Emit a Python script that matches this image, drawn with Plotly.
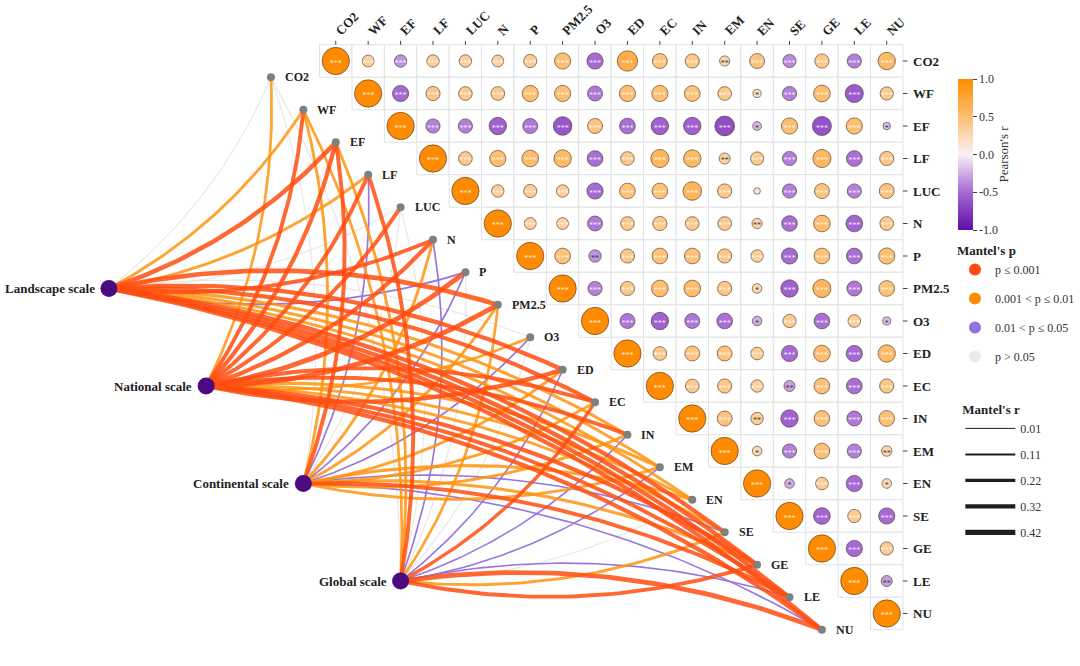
import numpy as np
import plotly.graph_objects as go

variables = ["CO2", "WF", "EF", "LF", "LUC", "N", "P", "PM2.5", "O3", "ED",
             "EC", "IN", "EM", "EN", "SE", "GE", "LE", "NU"]

# Pearson's r, upper triangle (values right of the diagonal, row by row)
r_rows = [
    [0.33, -0.35, 0.35, 0.35, 0.33, 0.38, 0.50, -0.50, 0.68, 0.45, 0.42, 0.27, 0.45, -0.38, 0.42, -0.42, 0.55],
    [-0.50, 0.42, 0.40, 0.40, 0.50, 0.50, -0.45, 0.50, 0.50, 0.48, 0.40, 0.20, -0.42, 0.52, -0.58, 0.38],
    [-0.42, -0.42, -0.55, -0.45, -0.60, 0.45, -0.48, -0.55, -0.55, -0.65, -0.22, 0.50, -0.62, 0.50, -0.18],
    [0.40, 0.50, 0.52, 0.55, -0.48, 0.40, 0.58, 0.55, 0.30, 0.38, -0.42, 0.58, -0.48, 0.42],
    [0.35, 0.38, 0.35, -0.50, 0.48, 0.48, 0.60, 0.42, 0.15, -0.42, 0.45, -0.42, 0.45],
    [0.33, 0.33, -0.45, 0.40, 0.42, 0.40, 0.40, 0.27, -0.48, 0.52, -0.52, 0.40],
    [0.48, -0.35, 0.42, 0.48, 0.48, 0.42, 0.35, -0.50, 0.48, -0.48, 0.50],
    [-0.42, 0.42, 0.52, 0.52, 0.42, 0.25, -0.55, 0.58, -0.45, 0.48],
    [-0.45, -0.55, -0.45, -0.48, -0.25, 0.38, -0.48, 0.36, -0.20],
    [0.40, 0.45, 0.45, 0.36, -0.50, 0.52, -0.50, 0.55],
    [0.40, 0.42, 0.35, -0.30, 0.48, -0.48, 0.42],
    [0.45, 0.35, -0.55, 0.48, -0.45, 0.48],
    [0.25, -0.42, 0.48, -0.42, 0.28],
    [-0.25, 0.36, -0.50, 0.25],
    [-0.52, 0.38, -0.50],
    [-0.50, 0.38],
    [-0.30],
]

# significance marks, same layout as r_rows
sig_rows = [
    ["***"] * 11 + ["**"] + ["***"] * 5,
    ["***"] * 11 + ["*"] + ["***"] * 4,
    ["***"] * 10 + ["*"] + ["***"] * 3 + ["*"],
    ["***"] * 8 + ["**"] + ["***"] * 5,
    ["***"] * 8 + [""] + ["***"] * 4,
    ["***"] * 7 + ["**"] + ["***"] * 4,
    ["***", "**"] + ["***"] * 9,
    ["***"] * 5 + ["*"] + ["***"] * 4,
    ["***"] * 4 + ["*"] + ["***"] * 3 + ["*"],
    ["***"] * 8,
    ["***"] * 3 + ["**"] + ["***"] * 3,
    ["***", "**"] + ["***"] * 4,
    ["*", "***", "***", "***", "**"],
    ["*", "***", "***", "*"],
    ["***"] * 3,
    ["***"] * 2,
    ["**"],
]

scales = ["Landscape scale", "National scale", "Continental scale", "Global scale"]

# Mantel's p class per scale (order = variables): a <=0.001, b <=0.01, c <=0.05, d >0.05
mantel_p_landscape = ["d", "b", "a", "b", "d", "a", "c", "a", "d", "a", "a", "b", "b", "b", "a", "a", "a", "a"]
mantel_p_national = ["b", "a", "a", "a", "a", "a", "a", "a", "b", "a", "a", "a", "b", "b", "b", "a", "a", "a"]
mantel_p_continental = ["d", "b", "a", "c", "d", "b", "c", "b", "c", "b", "b", "b", "b", "b", "c", "b", "a", "c"]
mantel_p_global = ["d", "b", "b", "a", "d", "c", "d", "b", "d", "c", "a", "c", "c", "d", "b", "a", "c", "a"]

# Mantel's r per scale
mantel_r_landscape = [0.02, 0.20, 0.36, 0.20, 0.03, 0.30, 0.10, 0.38, 0.03, 0.33, 0.33, 0.22, 0.20, 0.20, 0.33, 0.35, 0.33, 0.33]
mantel_r_national = [0.18, 0.30, 0.33, 0.30, 0.30, 0.33, 0.40, 0.40, 0.18, 0.35, 0.30, 0.30, 0.22, 0.20, 0.20, 0.33, 0.30, 0.33]
mantel_r_continental = [0.02, 0.20, 0.30, 0.08, 0.02, 0.20, 0.08, 0.20, 0.08, 0.20, 0.20, 0.20, 0.20, 0.22, 0.07, 0.22, 0.30, 0.07]
mantel_r_global = [0.03, 0.18, 0.20, 0.30, 0.02, 0.08, 0.03, 0.18, 0.03, 0.07, 0.25, 0.07, 0.07, 0.03, 0.20, 0.30, 0.07, 0.38]

p_labels = ["p \u2264 0.001", "0.001 < p \u2264 0.01", "0.01 < p \u2264 0.05", "p > 0.05"]
r_legend_values = [0.01, 0.11, 0.22, 0.32, 0.42]

# ---------------- styling ----------------
FONT = "Liberation Serif"
P_COLORS = {"a": "rgba(255,78,18,0.86)", "b": "rgba(255,146,12,0.84)",
            "c": "rgba(147,112,219,0.95)", "d": "rgba(225,225,225,0.8)"}
P_LEG_COLORS = {"a": "#FF4A10", "b": "#FF8C00", "c": "#9370DB", "d": "#EBEBEB"}
COLORSCALE = [[0.0, "#5E0DA6"], [0.25, "#A56AD4"], [0.5, "#F9F1F8"],
              [0.75, "#FDBF72"], [1.0, "#FF8C00"]]


def width_of(r):
    return 0.9 + 10.0 * r


n = len(variables)
fig = go.Figure()

# grid cells
for i in range(n):
    for j in range(i, n):
        fig.add_shape(type="rect", x0=j - 0.5, x1=j + 0.5, y0=i - 0.5, y1=i + 0.5,
                      line=dict(color="#E2E2E2", width=1), fillcolor="white", layer="below")

# ticks
for k in range(n):
    fig.add_shape(type="line", x0=17.5, x1=17.5 + 0.14, y0=k, y1=k,
                  line=dict(color="#444", width=1))
    fig.add_shape(type="line", x0=k, x1=k, y0=-0.5, y1=-0.62,
                  line=dict(color="#444", width=1))

# ---------------- Mantel links ----------------
scale_pos = [(-7.0, 7.0), (-4.0, 10.0), (-1.0, 13.0), (2.0, 16.0)]
var_pos = [(i - 2.0, i + 0.5) for i in range(n)]
p_all = [mantel_p_landscape, mantel_p_national, mantel_p_continental, mantel_p_global]
r_all = [mantel_r_landscape, mantel_r_national, mantel_r_continental, mantel_r_global]


def curve(p0, p2, k=0.13, m=50):
    dx, dy = p2[0] - p0[0], p2[1] - p0[1]
    if dy < 0:
        px, py = -dy, dx
    else:
        px, py = dy, -dx
    cxp = (p0[0] + p2[0]) / 2 + k * px
    cyp = (p0[1] + p2[1]) / 2 + k * py
    t = np.linspace(0, 1, m)
    x = (1 - t) ** 2 * p0[0] + 2 * (1 - t) * t * cxp + t ** 2 * p2[0]
    y = (1 - t) ** 2 * p0[1] + 2 * (1 - t) * t * cyp + t ** 2 * p2[1]
    return x, y


links = []
for s in range(4):
    for v in range(n):
        links.append((s, v, p_all[s][v], r_all[s][v]))
order = {"d": 0, "c": 1, "b": 2, "a": 3}
links.sort(key=lambda l: order[l[2]])
for s, v, pc, rv in links:
    x, y = curve(scale_pos[s], var_pos[v])
    fig.add_trace(go.Scatter(x=x, y=y, mode="lines",
                             line=dict(color=P_COLORS[pc], width=width_of(rv)),
                             hoverinfo="skip", showlegend=False))

# var nodes
fig.add_trace(go.Scatter(x=[p[0] for p in var_pos], y=[p[1] for p in var_pos], mode="markers",
                         marker=dict(size=8, color="#808080"), showlegend=False, hoverinfo="skip"))
# scale nodes
fig.add_trace(go.Scatter(x=[p[0] for p in scale_pos], y=[p[1] for p in scale_pos], mode="markers",
                         marker=dict(size=17, color="#4A0A80"), showlegend=False, hoverinfo="skip"))

# ---------------- correlation circles ----------------
cx, cy, cr, cs = [], [], [], []
for i in range(n):
    cx.append(i); cy.append(i); cr.append(1.0); cs.append("***")
    if i < n - 1:
        for k, val in enumerate(r_rows[i]):
            cx.append(i + 1 + k); cy.append(i); cr.append(val); cs.append(sig_rows[i][k])
sizes = [27.3 * abs(v) ** 0.75 for v in cr]

fig.add_trace(go.Scatter(
    x=cx, y=cy, mode="markers", showlegend=False, hoverinfo="skip",
    marker=dict(size=sizes, color=cr, cmin=-1, cmax=1, colorscale=COLORSCALE,
                line=dict(color="rgba(80,55,40,0.9)", width=0.7), opacity=1,
                showscale=True,
                colorbar=dict(x=961 / 1080, xanchor="left", y=1 - 79 / 666, yanchor="top",
                              len=151, lenmode="pixels", thickness=15, thicknessmode="pixels",
                              outlinewidth=0, ypad=0, xpad=0,
                              tickvals=[-1, -0.5, 0, 0.5, 1],
                              ticktext=["-1.0", "-0.5", "0.0", "0.5", "1.0"],
                              ticks="outside", ticklen=4, tickcolor="#444",
                              tickfont=dict(family=FONT, size=12, color="#333"),
                              title=dict(text="Pearson's r", side="right",
                                         font=dict(family=FONT, size=13, color="#333"))))))

star_colors = ["rgba(255,255,255,0.85)" if s == "***" else "#3A3A3A" for s in cs]
fig.add_trace(go.Scatter(x=cx, y=[v + 0.08 for v in cy], mode="text", text=cs,
                         textposition="middle center",
                         textfont=dict(family=FONT, size=8, color=star_colors),
                         showlegend=False, hoverinfo="skip"))

# ---------------- legends ----------------
for key, lab in zip(["a", "b", "c", "d"], p_labels):
    fig.add_trace(go.Scatter(x=[None], y=[None], mode="markers",
                             marker=dict(size=12, color=P_LEG_COLORS[key]),
                             name=lab, legend="legend", legendgroup="p" + key, showlegend=True))
for rv in r_legend_values:
    fig.add_trace(go.Scatter(x=[None], y=[None], mode="lines",
                             line=dict(color="#1E1E1E", width=width_of(rv)),
                             name=f"{rv:.2f}", legend="legend2", legendgroup=f"r{rv}", showlegend=True))

# ---------------- annotations ----------------
ann = []
for i, name in enumerate(variables):
    ann.append(dict(x=17.5, y=i, text=f"<b>{name}</b>", xanchor="left", yanchor="middle",
                    xshift=8, showarrow=False, font=dict(family=FONT, size=13, color="#222")))
    ann.append(dict(x=i, y=-0.62, text=f"<b>{name}</b>", xanchor="left", yanchor="bottom",
                    textangle=-45, xshift=-6, showarrow=False,
                    font=dict(family=FONT, size=13, color="#222")))
    ann.append(dict(x=var_pos[i][0], y=var_pos[i][1], text=f"<b>{name}</b>", xanchor="left",
                    yanchor="middle", xshift=12, showarrow=False,
                    font=dict(family=FONT, size=12, color="#222")))
for s, name in enumerate(scales):
    ann.append(dict(x=scale_pos[s][0], y=scale_pos[s][1], text=f"<b>{name}</b>", xanchor="right",
                    yanchor="middle", xshift=-12, showarrow=False,
                    font=dict(family=FONT, size=13, color="#222")))

fig.update_layout(
    width=1080, height=666, margin=dict(l=0, r=0, t=0, b=0),
    paper_bgcolor="white", plot_bgcolor="white",
    xaxis=dict(range=[-336.7 / 32.5, (1080 - 336.7) / 32.5], visible=False, fixedrange=True),
    yaxis=dict(range=[(666 - 61) / 32.5, -61 / 32.5], visible=False, fixedrange=True),
    annotations=ann,
    legend=dict(title=dict(text="<b>Mantel's p</b>", font=dict(family=FONT, size=13, color="#222")),
                x=958 / 1080, y=1 - 238 / 666, xanchor="left", yanchor="top",
                tracegroupgap=10, itemwidth=30, bgcolor="rgba(0,0,0,0)",
                font=dict(family=FONT, size=12, color="#333")),
    legend2=dict(title=dict(text="<b>Mantel's r</b>", font=dict(family=FONT, size=13, color="#222")),
                 x=963 / 1080, y=1 - 397 / 666, xanchor="left", yanchor="top",
                 tracegroupgap=7, itemwidth=50, bgcolor="rgba(0,0,0,0)",
                 font=dict(family=FONT, size=12, color="#333")),
)

post = ("document.documentElement.style.overflow='hidden';"
        "document.body.style.margin='0';document.body.style.overflow='hidden';"
        "var gd=document.getElementById('{plot_id}');"
        "Plotly.relayout(gd,{width:1080,height:666});")
fig.write_html("out.html", post_script=post, config={"displayModeBar": False})
